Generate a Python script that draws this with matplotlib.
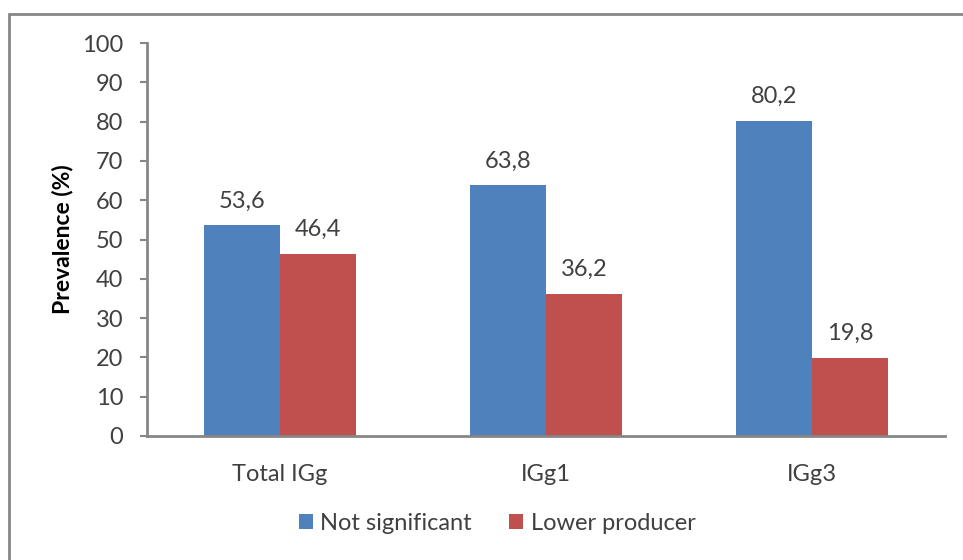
import matplotlib
matplotlib.use("Agg")
import matplotlib.pyplot as plt
from matplotlib.patches import Rectangle
import numpy as np

categories = ["Total IGg", "IGg1", "IGg3"]
not_significant = [53.6, 63.8, 80.2]
lower_producer = [46.4, 36.2, 19.8]
series_names = ["Not significant", "Lower producer"]
y_ticks = list(range(0, 101, 10))

plt.rcParams["font.family"] = ["Lato", "DejaVu Sans"]

BLUE = "#4F81BD"
RED = "#C0504D"
GRAY = "#868686"
TEXT = "#404040"
FS = 17

fig = plt.figure(figsize=(9.63, 5.6), dpi=100)
ax = fig.add_axes([147 / 963, 1 - 436 / 560, (945 - 147) / 963, (436 - 43) / 560])

x = np.arange(len(categories))
w = 0.285
b1 = ax.bar(x - w / 2, not_significant, w, color=BLUE, label=series_names[0])
b2 = ax.bar(x + w / 2, lower_producer, w, color=RED, label=series_names[1])

for bars, vals in ((b1, not_significant), (b2, lower_producer)):
    for rect, v in zip(bars, vals):
        ax.annotate(f"{v:.1f}".replace(".", ","),
                    (rect.get_x() + rect.get_width() / 2, v),
                    xytext=(0, 10), textcoords="offset points",
                    ha="center", va="bottom", fontsize=FS, color=TEXT)

ax.set_xlim(-0.5, 2.5)
ax.set_ylim(0, 100)
ax.set_yticks(y_ticks)
ax.set_xticks(x)
ax.set_xticklabels(categories)
ax.tick_params(axis="y", direction="out", length=5, width=1.5, color=GRAY,
               labelsize=FS, labelcolor=TEXT, pad=12)
ax.tick_params(axis="x", length=0, labelsize=FS, labelcolor=TEXT, pad=20)
for s in ("top", "right"):
    ax.spines[s].set_visible(False)
for s in ("left", "bottom"):
    ax.spines[s].set_color(GRAY)
    ax.spines[s].set_linewidth(2)

ax.set_ylabel("Prevalence (%)", fontsize=16.5, fontweight="bold", color="black", labelpad=6)

leg = fig.legend(handles=[b1, b2], labels=series_names, loc="center",
                 bbox_to_anchor=(497 / 963, 1 - 523 / 560), ncol=2, frameon=False,
                 fontsize=FS, handlelength=0.6, handleheight=0.6, handletextpad=0.3,
                 columnspacing=1.6)
for t in leg.get_texts():
    t.set_color(TEXT)

# chart frame
fig.add_artist(Rectangle((9 / 963, -0.1), 2.0, 1 - 14 / 560 + 0.1, transform=fig.transFigure,
                         fill=False, edgecolor=GRAY, linewidth=2, clip_on=False))

fig.savefig("out.png", dpi=100, facecolor="white")
